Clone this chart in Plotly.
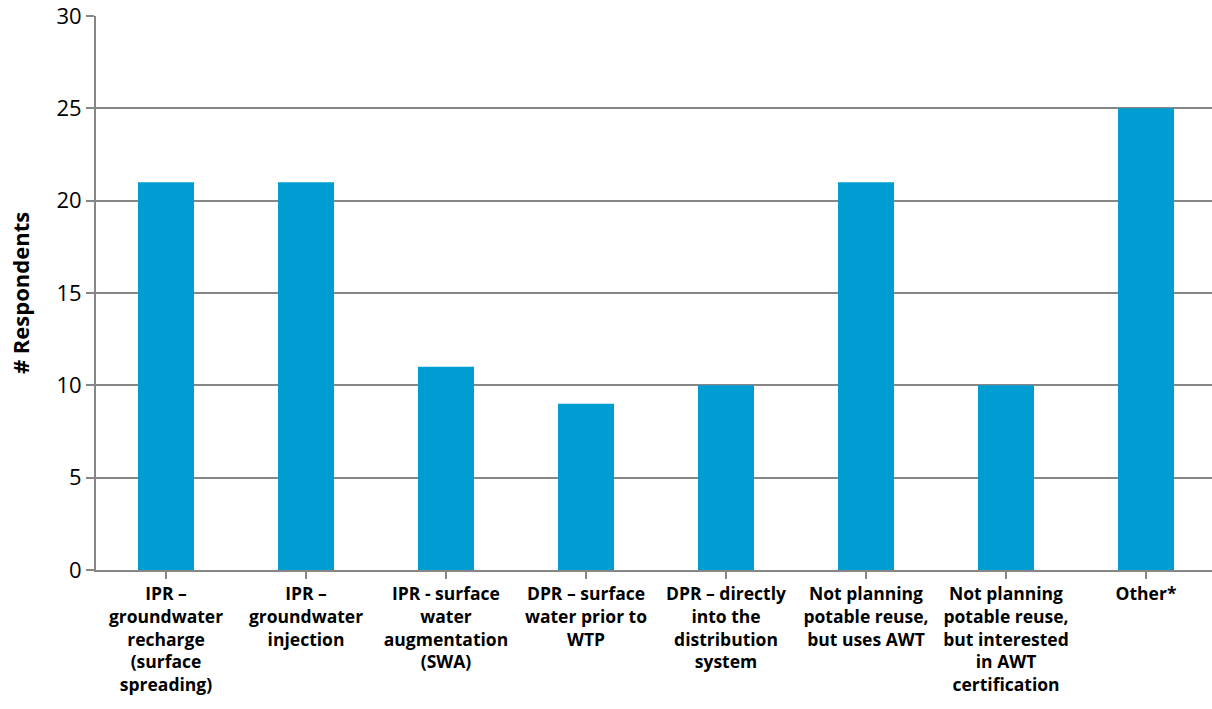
import plotly.graph_objects as go

categories = [
    "IPR –<br>groundwater<br>recharge<br>(surface<br>spreading)",
    "IPR –<br>groundwater<br>injection",
    "IPR - surface<br>water<br>augmentation<br>(SWA)",
    "DPR – surface<br>water prior to<br>WTP",
    "DPR – directly<br>into the<br>distribution<br>system",
    "Not planning<br>potable reuse,<br>but uses AWT",
    "Not planning<br>potable reuse,<br>but interested<br>in AWT<br>certification",
    "Other*",
]
respondents = [21, 21, 11, 9, 10, 21, 10, 25]
y_ticks = [0, 5, 10, 15, 20, 25, 30]

fig = go.Figure(go.Bar(
    x=list(range(len(categories))),
    y=respondents,
    width=0.4,
    marker=dict(color="#009DD3", line=dict(width=0)),
))

fig.update_layout(
    width=1212, height=709,
    margin=dict(l=96, r=0, t=16, b=139),
    paper_bgcolor="white", plot_bgcolor="white",
    showlegend=False,
    font=dict(family="Open Sans", color="black"),
    bargap=0.6,
)
fig.update_xaxes(
    automargin=False,
    tickmode="array",
    tickvals=list(range(len(categories))),
    ticktext=["<b>" + c.replace("<br>", "</b><br><b>") + "</b>" for c in categories],
    tickfont=dict(family="Open Sans", size=17.5, color="black"),
    range=[-0.5, -0.5 + 1116 / 140],
    showgrid=False,
    showline=True, linecolor="#868686", linewidth=2,
    ticks="outside", tickson="boundaries", ticklen=7, tickcolor="#868686", tickwidth=2,
    zeroline=False,
)
fig.update_yaxes(
    automargin=False,
    range=[0, 30],
    tickvals=y_ticks,
    tickfont=dict(family="Open Sans", size=22, color="black"),
    ticklabeloverflow="allow",
    showgrid=True, gridcolor="#868686", gridwidth=2,
    showline=True, linecolor="#868686", linewidth=2,
    ticks="outside", ticklen=8, tickcolor="#868686", tickwidth=2,
    zeroline=False,
    title=dict(text="<b># Respondents</b>", font=dict(family="Open Sans", size=22, color="black"), standoff=21),
)

# remove the default 8px page margin so the figure sits at the window origin
fig.write_html(
    "out.html",
    config={"displayModeBar": False},
    post_script="document.body.style.margin='0';",
)
